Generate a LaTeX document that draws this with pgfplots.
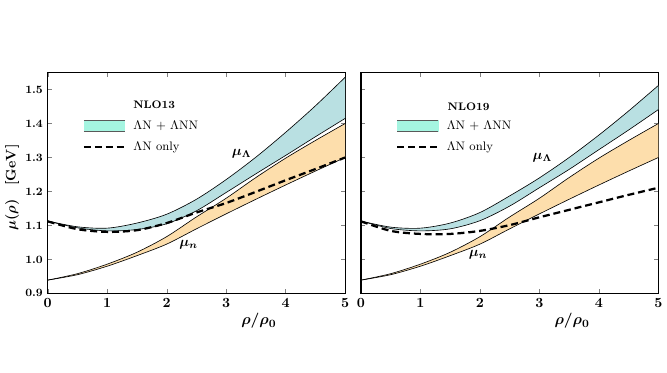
\documentclass[border=0pt]{standalone}
\usepackage{pgfplots}
\pgfplotsset{compat=1.18}
\usepackage{pgfplotstable}
\usepgfplotslibrary{fillbetween}

\definecolor{lamband}{RGB}{185,224,226}
\definecolor{nband}{RGB}{253,222,172}
\definecolor{legcyan}{RGB}{165,245,225}

% x, Lambda band upper/lower, neutron band upper/lower, Lambda (LN only)
\pgfplotstableread{
x   lu    ll    nu    nl    d
0.0 1.113 1.113 0.939 0.939 1.112
0.5 1.096 1.093 0.958 0.955 1.089
1.0 1.092 1.084 0.986 0.980 1.081
1.5 1.107 1.088 1.021 1.011 1.086
2.0 1.133 1.105 1.067 1.045 1.107
2.5 1.177 1.143 1.125 1.090 1.138
3.0 1.235 1.197 1.180 1.134 1.166
3.5 1.301 1.252 1.241 1.177 1.199
4.0 1.374 1.306 1.298 1.219 1.233
4.5 1.452 1.361 1.350 1.260 1.266
5.0 1.536 1.415 1.400 1.300 1.300
}\nloA

\pgfplotstableread{
x   lu    ll    nu    nl    d
0.0 1.113 1.113 0.939 0.939 1.112
0.5 1.095 1.091 0.958 0.955 1.084
1.0 1.092 1.084 0.986 0.980 1.075
1.5 1.107 1.090 1.021 1.011 1.075
2.0 1.138 1.114 1.067 1.045 1.084
2.5 1.187 1.157 1.125 1.090 1.101
3.0 1.240 1.211 1.180 1.134 1.124
3.5 1.300 1.265 1.241 1.177 1.146
4.0 1.366 1.323 1.298 1.219 1.168
4.5 1.437 1.381 1.350 1.260 1.190
5.0 1.512 1.441 1.400 1.300 1.211
}\nloB

\pgfplotsset{
  panel/.style={
    scale only axis, width=7.475cm, height=5.55cm,
    set layers,
    xmin=0, xmax=5, ymin=0.9, ymax=1.55,
    xtick={0,1,2,3,4,5},
    ytick={0.9,1.0,1.1,1.2,1.3,1.4,1.5},
    tick align=inside, major tick length=0.1cm,
    axis line style={line width=0.8pt},
    xticklabel style={font=\fontsize{10}{12}\selectfont\boldmath},
    yticklabel style={font=\fontsize{8.5}{10}\selectfont\boldmath,
      /pgf/number format/fixed, /pgf/number format/fixed zerofill,
      /pgf/number format/precision=1},
    xlabel={$\rho/\rho_0$},
    xlabel style={font=\fontsize{11}{13}\selectfont\boldmath,
      at={(axis description cs:0.71,-0.125)}, anchor=center},
    legend style={draw=none, fill=none, inner sep=0pt, row sep=3.5pt,
      font=\fontsize{8.8}{10}\selectfont, anchor=north west},
    legend cell align=left,
  },
  edge/.style={black, line width=0.45pt, smooth, forget plot},
  lnonly/.style={black, line width=1.6pt, dash pattern=on 5pt off 2.8pt, smooth},
  bandleg/.style={legend image code/.code={
    \fill[legcyan] (0cm,-0.137cm) rectangle (1.025cm,0.137cm);
    \draw[gray!70!black, line width=0.6pt] (0cm,0.137cm)--(1.025cm,0.137cm)
      (0cm,-0.137cm)--(1.025cm,-0.137cm);}},
  dashleg/.style={lnonly, legend image code/.code={
    \draw[#1] (0cm,0cm)--(1.025cm,0cm);}},
}

\begin{document}
\begin{tikzpicture}
\path (0,0) rectangle (16.675cm,9.375cm);

\begin{axis}[panel, at={(1.2cm,2cm)}, anchor=south west,
  ylabel={$\mu(\rho)\quad[\mathbf{GeV}]$},
  ylabel style={font=\fontsize{10}{12}\selectfont\boldmath,
    at={(axis description cs:-0.12,0.48)}, anchor=center},
  legend style={at={(axis cs:0.585,1.418)}},
]
\addplot[edge, name path=lu] table[x=x,y=lu]{\nloA};
\addplot[edge, name path=ll] table[x=x,y=ll]{\nloA};
\addplot[edge, name path=nu] table[x=x,y=nu]{\nloA};
\addplot[edge, name path=nl] table[x=x,y=nl]{\nloA};
\addplot[lamband, forget plot] fill between[of=lu and ll];
\addplot[nband, forget plot] fill between[of=nu and nl];
\addplot[lnonly, forget plot] table[x=x,y=d]{\nloA};
\addlegendimage{bandleg}
\addlegendentry{\hspace{0.12cm}$\Lambda$N + $\Lambda$NN}
\addlegendimage{dashleg}
\addlegendentry{\hspace{0.12cm}$\Lambda$N only}
\node[font=\fontsize{7.8}{10}\selectfont\bfseries] at (axis cs:1.79,1.454) {NLO13};
\node[font=\fontsize{10}{12}\selectfont\boldmath] at (axis cs:3.26,1.311) {$\mu_\Lambda$};
\node[font=\fontsize{10}{12}\selectfont\boldmath] at (axis cs:2.37,1.043) {$\mu_n$};
\end{axis}

\begin{axis}[panel, at={(9.075cm,2cm)}, anchor=south west,
  yticklabels={},
  legend style={at={(axis cs:0.587,1.418)}},
]
\addplot[edge, name path=lu] table[x=x,y=lu]{\nloB};
\addplot[edge, name path=ll] table[x=x,y=ll]{\nloB};
\addplot[edge, name path=nu] table[x=x,y=nu]{\nloB};
\addplot[edge, name path=nl] table[x=x,y=nl]{\nloB};
\addplot[lamband, forget plot] fill between[of=lu and ll];
\addplot[nband, forget plot] fill between[of=nu and nl];
\addplot[lnonly, forget plot] table[x=x,y=d]{\nloB};
\addlegendimage{bandleg}
\addlegendentry{\hspace{0.12cm}$\Lambda$N + $\Lambda$NN}
\addlegendimage{dashleg}
\addlegendentry{\hspace{0.12cm}$\Lambda$N only}
\node[font=\fontsize{7.8}{10}\selectfont\bfseries] at (axis cs:1.81,1.448) {NLO19};
\node[font=\fontsize{10}{12}\selectfont\boldmath] at (axis cs:3.05,1.30) {$\mu_\Lambda$};
\node[font=\fontsize{10}{12}\selectfont\boldmath] at (axis cs:1.97,1.015) {$\mu_n$};
\end{axis}
\end{tikzpicture}
\end{document}
